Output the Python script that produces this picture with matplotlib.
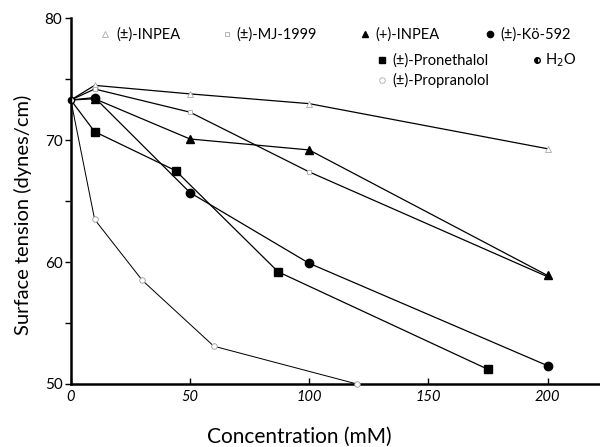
import matplotlib
matplotlib.use('Agg')
import matplotlib.pyplot as plt
from matplotlib.ticker import MultipleLocator

plt.rcParams['font.family'] = ['Lato', 'DejaVu Sans']

# surface tension (dynes/cm) vs concentration (mM)
inpea_x = [0, 10, 50, 100, 200]
inpea_y = [73.3, 74.5, 73.8, 73.0, 69.3]

mj1999_x = [0, 10, 50, 100, 200]
mj1999_y = [73.3, 74.2, 72.3, 67.4, 58.8]

dinpea_x = [0, 10, 50, 100, 200]
dinpea_y = [73.3, 73.4, 70.1, 69.2, 58.9]

ko592_x = [0, 10, 50, 100, 200]
ko592_y = [73.3, 73.5, 65.7, 59.9, 51.5]

pronethalol_x = [0, 10, 44, 87, 175]
pronethalol_y = [73.3, 70.7, 67.5, 59.2, 51.2]

propranolol_x = [0, 10, 30, 60, 120]
propranolol_y = [73.3, 63.5, 58.5, 53.1, 50.0]

water_x = [0]
water_y = [73.3]

fig = plt.figure(figsize=(6.0, 4.47), dpi=100)
ax = fig.add_axes([0.118, 0.141, 0.882, 0.818])

lw = 0.9
skip0 = slice(1, None)  # the common 0 mM point is shown by the water marker only
ax.plot(inpea_x, inpea_y, '-', color='black', lw=lw, marker='^', ms=4, markevery=skip0,
        mfc='white', mec='#aaaaaa', mew=0.6, clip_on=False, zorder=3)
ax.plot(mj1999_x, mj1999_y, '-', color='black', lw=lw, marker='s', ms=3.5, markevery=skip0,
        mfc='white', mec='#aaaaaa', mew=0.6, clip_on=False, zorder=3)
ax.plot(dinpea_x, dinpea_y, '-', color='black', lw=lw, marker='^', ms=6, markevery=skip0,
        mfc='black', mec='black', clip_on=False, zorder=3)
ax.plot(ko592_x, ko592_y, '-', color='black', lw=lw, marker='o', ms=6, markevery=skip0,
        mfc='black', mec='black', clip_on=False, zorder=3)
ax.plot(pronethalol_x, pronethalol_y, '-', color='black', lw=lw, marker='s', ms=6,
        markevery=skip0, mfc='black', mec='black', clip_on=False, zorder=3)
ax.plot(propranolol_x, propranolol_y, '-', color='black', lw=lw * 0.8, marker='o', ms=4,
        markevery=skip0, mfc='white', mec='#999999', mew=0.6, clip_on=False, zorder=3)
ax.plot(water_x, water_y, linestyle='none', marker='o', ms=4.5, fillstyle='left',
        mfc='black', mec='black', mfcalt='white', clip_on=False, zorder=4)

ax.set_xlim(0, 222)
ax.set_ylim(50, 80)
ax.spines['top'].set_visible(False)
ax.spines['right'].set_visible(False)
ax.spines['left'].set_linewidth(1.8)
ax.spines['bottom'].set_linewidth(1.8)

ax.set_xticks([0, 50, 100, 150, 200])
ax.set_yticks([50, 60, 70, 80])
ax.yaxis.set_minor_locator(MultipleLocator(5))
ax.tick_params(axis='x', direction='in', length=4, width=1, labelsize=10.5, pad=4)
ax.tick_params(axis='y', which='both', direction='out', length=4, width=1,
               labelsize=11, pad=2)
for lab in ax.get_xticklabels():
    lab.set_fontstyle('italic')

fig.text(299 / 600, 1 - 437 / 447, 'Concentration (mM)', fontsize=15,
         ha='center', va='center')
fig.text(23 / 600, 1 - 215 / 447, 'Surface tension (dynes/cm)', fontsize=14.5,
         rotation=90, ha='center', va='center')

# legend drawn as text + sample markers in axes coordinates
def entry(x, tx, y, marker, label, **kw):
    ax.plot([x], [y], linestyle='none', marker=marker, transform=ax.transAxes,
            clip_on=False, **kw)
    ax.text(tx, y, label, transform=ax.transAxes, fontsize=10.5,
            va='center', ha='left')

faint = dict(mfc='white', mec='#aaaaaa', mew=0.6)
entry(0.064, 0.087, 0.956, '^', '(±)-INPEA', ms=4, **faint)
entry(0.295, 0.312, 0.956, 's', '(±)-MJ-1999', ms=3.5, **faint)
entry(0.556, 0.575, 0.956, '^', '(+)-INPEA', ms=4.5, color='black')
entry(0.792, 0.811, 0.956, 'o', '(±)-Kö-592', ms=4.5, color='black')
entry(0.588, 0.607, 0.885, 's', '(±)-Pronethalol', ms=4.5, color='black')
entry(0.881, 0.896, 0.885, 'o', 'H$_2$O', ms=4, fillstyle='left',
      mfc='black', mec='black', mfcalt='white')
entry(0.588, 0.607, 0.83, 'o', '(±)-Propranolol', ms=4, **faint)

fig.savefig('out.png', dpi=100)
